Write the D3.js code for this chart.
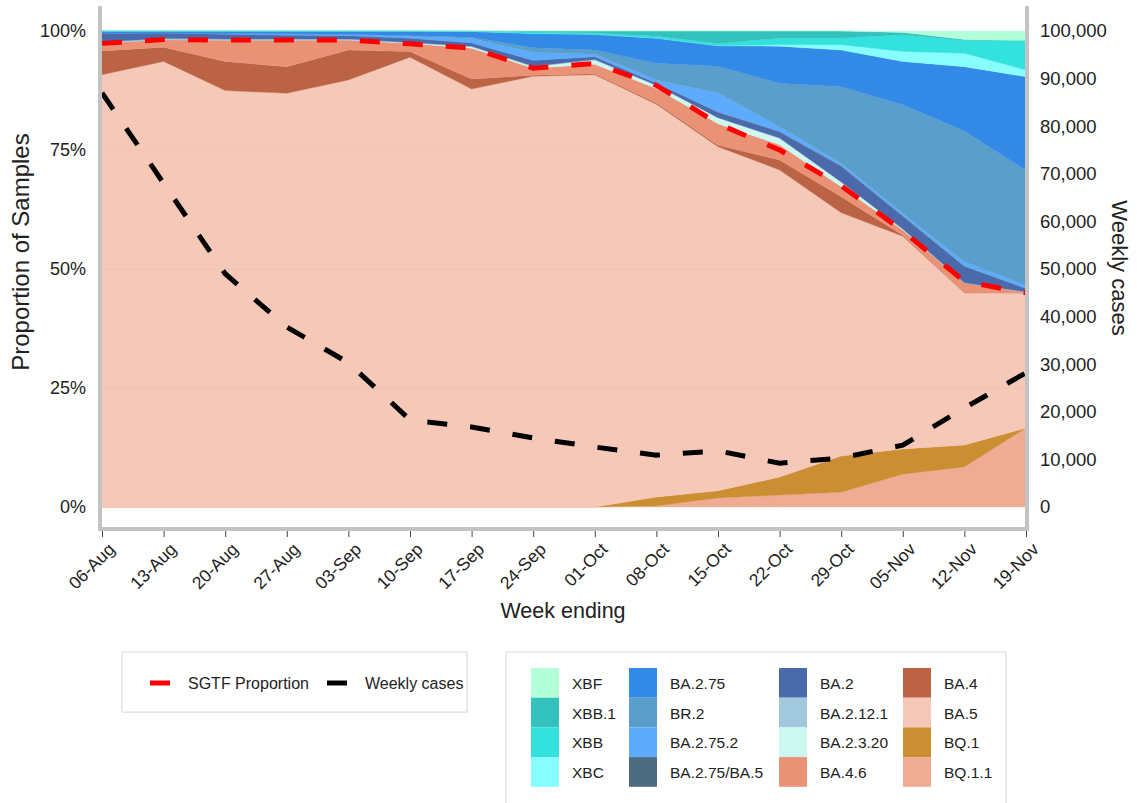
<!DOCTYPE html>
<html>
<head>
<meta charset="utf-8">
<script src="https://cdn.jsdelivr.net/npm/d3@7"></script>
<style>
  body { margin: 0; background: #fff; }
  svg { font-family: "Liberation Sans", Arial, sans-serif; }
</style>
</head>
<body>
<svg id="chart" width="1137" height="803"></svg>
<script>
const weeks = ["06-Aug", "13-Aug", "20-Aug", "27-Aug", "03-Sep", "10-Sep", "17-Sep", "24-Sep",
  "01-Oct", "08-Oct", "15-Oct", "22-Oct", "29-Oct", "05-Nov", "12-Nov", "19-Nov"];

// variant proportions (%), stacked bottom -> top
const bq11   = [0, 0, 0, 0, 0, 0, 0, 0, 0, 0.2, 1.9, 2.5, 3.1, 6.9, 8.4, 16.6];
const bq1    = [0, 0, 0, 0, 0, 0, 0, 0, 0, 1.9, 1.5, 3.8, 7.6, 5.3, 4.6, 0];
const ba5    = [90.8, 93.6, 87.5, 86.9, 89.7, 94.5, 87.8, 90.5, 90.8, 82.5, 72.3, 64.5, 51.1, 44.7, 32.0, 28.4];
const ba4    = [5.0, 3.0, 6.1, 5.6, 6.3, 1.2, 2.1, 0.2, 0.2, 0.3, 0.3, 2.1, 3.4, 0.2, 0.1, 0];
const ba46   = [1.7, 1.6, 4.5, 5.6, 2.1, 1.7, 6.5, 1.5, 2.0, 3.0, 4.5, 3.2, 2.1, 1.1, 2.0, 0.2];
const ba2320 = [0, 0, 0, 0, 0, 0.1, 0.3, 0.3, 0.9, 0.7, 1.3, 1.4, 1.0, 0.2, 0, 0];
const ba2121 = [0.2, 0.2, 0.2, 0.2, 0.2, 0.1, 0.1, 0.1, 0.1, 0, 0, 0, 0, 0, 0, 0];
const ba2    = [1.8, 1.2, 1.0, 0.8, 0.7, 0.9, 0.7, 1.2, 0.6, 0.4, 1.1, 1.3, 3.2, 2.6, 3.4, 0.7];
const ba275ba5 = [0, 0, 0, 0, 0, 0, 0, 0, 0, 0, 0.1, 0.1, 0.2, 0.2, 0.1, 0];
const ba2752 = [0, 0, 0.2, 0.3, 0.3, 0.4, 0.9, 1.7, 0.5, 0.7, 4.0, 1.0, 0.5, 0.5, 0.9, 0.7];
const br2    = [0, 0, 0, 0, 0, 0.1, 0.3, 1.0, 0.9, 3.5, 5.6, 9.1, 16.1, 22.8, 27.5, 24.1];
const ba275  = [0.5, 0.4, 0.5, 0.6, 0.7, 1.0, 1.2, 3.0, 3.3, 5.3, 4.3, 7.8, 7.7, 9.1, 13.5, 19.7];
const xbc    = [0, 0, 0, 0, 0, 0, 0, 0, 0, 0, 0, 0.3, 1.1, 2.1, 2.8, 1.4];
const xbb    = [0, 0, 0, 0, 0, 0, 0.1, 0.3, 0.3, 0.4, 0.5, 1.4, 1.4, 3.5, 2.7, 6.2];
const xbb1   = [0, 0, 0, 0, 0, 0, 0, 0.2, 0.4, 1.1, 2.6, 1.5, 1.5, 0.5, 0.2, 0];
const xbf    = [0, 0, 0, 0, 0, 0, 0, 0, 0, 0, 0, 0, 0, 0.3, 1.8, 2.0];

const sgtf  = [97.4, 98.2, 98.1, 98.1, 98.1, 97.3, 96.4, 92.2, 93.2, 88.6, 80.5, 75.0, 67.5, 58.0, 47.4, 45.0];
const cases = [87000, 68000, 49000, 37800, 30300, 18300, 16800, 14500, 12600, 10900, 11800, 9200, 10300, 13000, 20800, 28200];

const variants = ["BQ.1.1", "BQ.1", "BA.5", "BA.4", "BA.4.6", "BA.2.3.20", "BA.2.12.1", "BA.2",
  "BA.2.75/BA.5", "BA.2.75.2", "BR.2", "BA.2.75", "XBC", "XBB", "XBB.1", "XBF"];
const series = [bq11, bq1, ba5, ba4, ba46, ba2320, ba2121, ba2, ba275ba5, ba2752, br2, ba275, xbc, xbb, xbb1, xbf];
const colors = ["#F0AB95", "#CC8E32", "#F5C8B8", "#BC6346", "#EA9276", "#CCF8F0", "#A2C8DE", "#4B6AAC",
  "#4C6A7D", "#5CABFC", "#5A9ECB", "#338AE6", "#88FFFF", "#33E2DC", "#33C2BE", "#B3FFD9"];

const leftTicks = [0, 25, 50, 75, 100];
const rightTicks = d3.range(0, 100001, 10000);

// table for d3.stack
const table = weeks.map((w, i) => {
  const row = { week: w };
  variants.forEach((v, j) => row[v] = series[j][i]);
  return row;
});

const svg = d3.select("#chart");
const plotLeft = 102, plotRight = 1026, plotTop = 31, plotBottom = 507;

const x = d3.scalePoint().domain(weeks).range([plotLeft, plotRight]);
const y = d3.scaleLinear().domain([0, 100]).range([plotBottom, plotTop]);
const y2 = d3.scaleLinear().domain([0, 100000]).range([plotBottom, plotTop]);

const stack = d3.stack().keys(variants);
const layers = stack(table);

const area = d3.area()
  .x(d => x(d.data.week))
  .y0(d => y(d[0]))
  .y1(d => y(d[1]));

svg.append("g")
  .selectAll("path")
  .data(layers)
  .enter()
  .append("path")
  .attr("d", area)
  .attr("fill", (d, i) => colors[i])
  .attr("stroke", (d, i) => colors[i])
  .attr("stroke-width", 0.3);

// faint grid lines
svg.append("g")
  .selectAll("line")
  .data([25, 50, 75])
  .enter()
  .append("line")
  .attr("x1", plotLeft).attr("x2", plotRight)
  .attr("y1", d => y(d)).attr("y2", d => y(d))
  .attr("stroke", "#000")
  .attr("stroke-opacity", 0.025);

// SGTF proportion line
svg.append("path")
  .datum(sgtf)
  .attr("d", d3.line().x((d, i) => x(weeks[i])).y(d => y(d)))
  .attr("fill", "none")
  .attr("stroke", "#FF0000")
  .attr("stroke-width", 5)
  .attr("stroke-dasharray", "20,23");

// weekly cases line
svg.append("path")
  .datum(cases)
  .attr("d", d3.line().x((d, i) => x(weeks[i])).y(d => y2(d)))
  .attr("fill", "none")
  .attr("stroke", "#000")
  .attr("stroke-width", 5)
  .attr("stroke-dasharray", "20,23");

// frame
const frame = svg.append("g").attr("stroke", "#C3C3C3").attr("stroke-width", 4);
frame.append("line").attr("x1", plotLeft - 2).attr("x2", plotLeft - 2).attr("y1", 6).attr("y2", 531);
frame.append("line").attr("x1", plotRight + 1).attr("x2", plotRight + 1).attr("y1", 6).attr("y2", 531);
frame.append("line").attr("x1", plotLeft - 4).attr("x2", plotRight + 3).attr("y1", 529).attr("y2", 529);

// x axis
const xAxis = svg.append("g").attr("transform", "translate(0,531)")
  .call(d3.axisBottom(x).tickSize(6).tickSizeOuter(0));
xAxis.select(".domain").remove();
xAxis.selectAll(".tick line").attr("stroke", "#444");
xAxis.selectAll(".tick text")
  .attr("font-size", 17.5)
  .attr("fill", "#222")
  .attr("text-anchor", "end")
  .attr("dy", 0)
  .attr("transform", "translate(7,13) rotate(-45)");

// left axis
const yAxis = svg.append("g").attr("transform", `translate(${plotLeft - 8},0)`)
  .call(d3.axisLeft(y).tickValues(leftTicks).tickFormat(d => d + "%").tickSize(0));
yAxis.select(".domain").remove();
yAxis.selectAll("text").attr("font-size", 18).attr("fill", "#222").attr("dx", -5);

// right axis
const y2Axis = svg.append("g").attr("transform", `translate(${plotRight + 8},0)`)
  .call(d3.axisRight(y2).tickValues(rightTicks).tickFormat(d3.format(",")).tickSize(0));
y2Axis.select(".domain").remove();
y2Axis.selectAll("text").attr("font-size", 18.5).attr("fill", "#222").attr("dx", 3);

// axis titles
svg.append("text").attr("transform", "translate(29,252) rotate(-90)")
  .attr("text-anchor", "middle").attr("font-size", 24).attr("fill", "#222")
  .text("Proportion of Samples");
svg.append("text").attr("transform", "translate(1112,268) rotate(90)")
  .attr("text-anchor", "middle").attr("font-size", 22).attr("fill", "#222")
  .text("Weekly cases");
svg.append("text").attr("x", 563).attr("y", 618)
  .attr("text-anchor", "middle").attr("font-size", 21.5).attr("fill", "#222")
  .text("Week ending");

// legend boxes
function box(bx, by, bw, bh) {
  svg.append("rect").attr("x", bx + 1).attr("y", by + 1).attr("width", bw).attr("height", bh)
    .attr("fill", "#ececec");
  svg.append("rect").attr("x", bx).attr("y", by).attr("width", bw).attr("height", bh)
    .attr("fill", "#fff").attr("stroke", "#dcdcdc").attr("stroke-width", 1);
}
box(122, 652, 345, 60);
box(506, 652, 500, 160);

const lineLegend = [
  { label: "SGTF Proportion", color: "#FF0000", x: 150 },
  { label: "Weekly cases", color: "#000", x: 327 }
];
lineLegend.forEach(d => {
  svg.append("line").attr("x1", d.x).attr("x2", d.x + 20).attr("y1", 683).attr("y2", 683)
    .attr("stroke", d.color).attr("stroke-width", 5);
  svg.append("text").attr("x", d.x + 38).attr("y", 689).attr("font-size", 16).attr("fill", "#222")
    .text(d.label);
});

const legendOrder = variants.slice().reverse();
const colX = [531, 629, 779, 903];
legendOrder.forEach((v, k) => {
  const col = Math.floor(k / 4), row = k % 4;
  const ci = variants.indexOf(v);
  const sx = colX[col], sy = 668 + row * 29.7;
  svg.append("rect").attr("x", sx).attr("y", sy).attr("width", 28).attr("height", 29.7)
    .attr("fill", colors[ci]);
  svg.append("text").attr("x", sx + 41).attr("y", sy + 21).attr("font-size", 15.5).attr("fill", "#222")
    .text(v);
});
</script>
</body>
</html>
